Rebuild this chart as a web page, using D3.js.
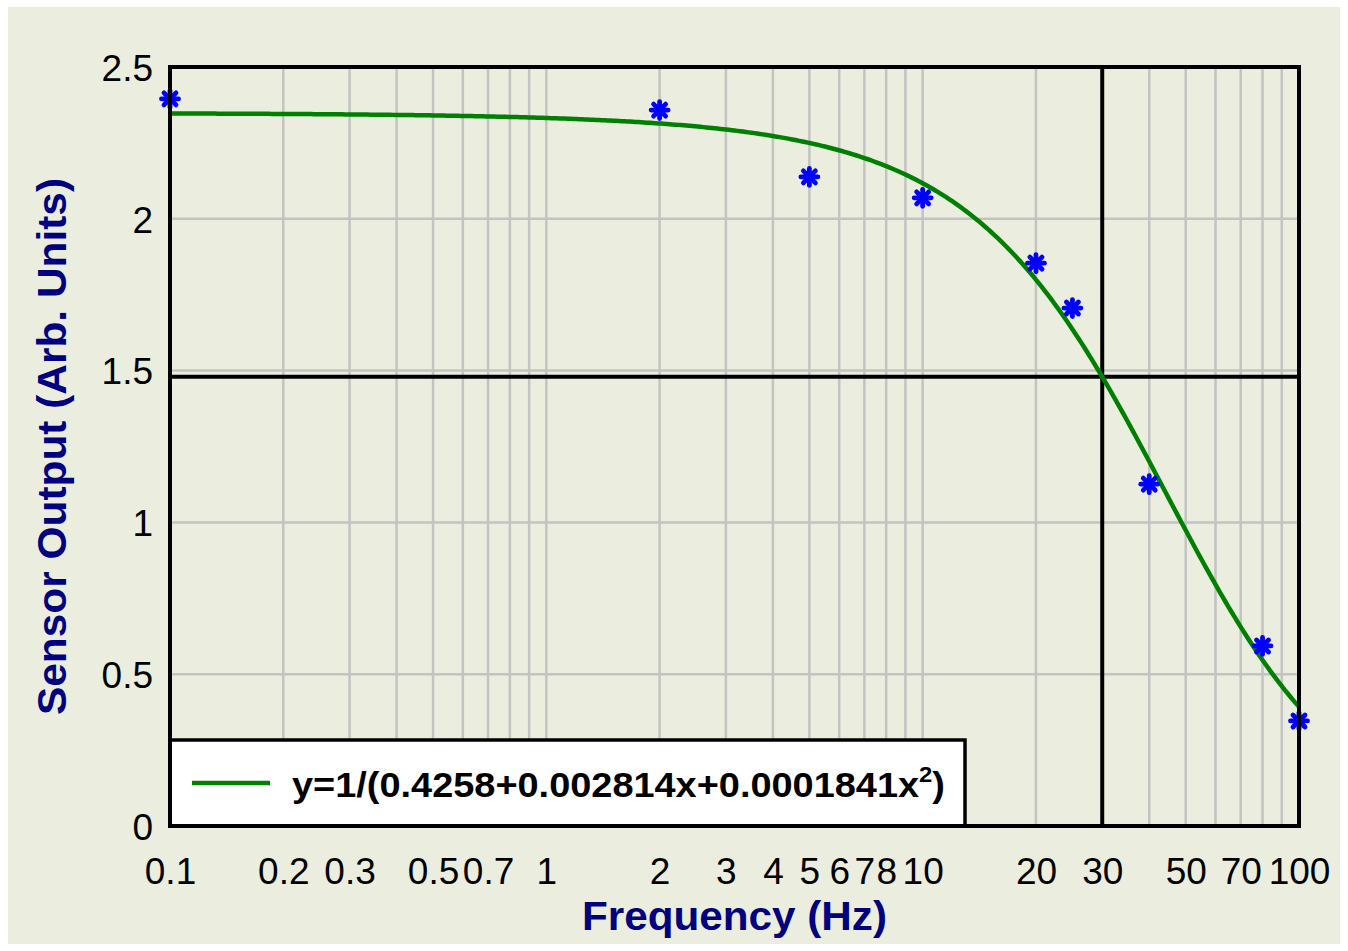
<!DOCTYPE html>
<html>
<head>
<meta charset="utf-8">
<script src="https://cdn.jsdelivr.net/npm/d3@7"></script>
<style>
  html, body { margin: 0; padding: 0; background: #ffffff; }
  svg { display: block; }
  text { font-family: "Liberation Sans", Arial, Helvetica, sans-serif; }
</style>
</head>
<body>
<svg id="chart" width="1348" height="951"></svg>
<script>
// Measured sensor response versus excitation frequency
const frequency = [0.1, 2, 5, 10, 20, 25, 40, 80, 100];
const sensorOutput = [2.395, 2.358, 2.138, 2.069, 1.854, 1.706, 1.126, 0.593, 0.346];

// Fitted model y = 1/(a + b*x + c*x^2)
const fitCoefficients = [0.4258, 0.002814, 0.0001841];

// Cut-off marker frequency
const cutoffFrequency = 30;

// Axis tick labels
const xTickLabels = [0.1, 0.2, 0.3, 0.5, 0.7, 1, 2, 3, 4, 5, 6, 7, 8, 10, 20, 30, 50, 70, 100];
const yTickLabels = [0, 0.5, 1, 1.5, 2, 2.5];

const xTitle = "Frequency (Hz)";
const yTitle = "Sensor Output (Arb. Units)";

const svg = d3.select("#chart");
const W = 1348, H = 951;
const plot = { left: 170, right: 1299, top: 67, bottom: 826 };

const x = d3.scaleLog().domain([0.1, 100]).range([plot.left, plot.right]);
const y = d3.scaleLinear().domain([0, 2.5]).range([plot.bottom, plot.top]);

const model = f => 1 / (fitCoefficients[0] + fitCoefficients[1] * f + fitCoefficients[2] * f * f);

// Panel background
svg.append("rect")
  .attr("x", 8).attr("y", 7)
  .attr("width", W - 16).attr("height", H - 14)
  .attr("fill", "#ebeedf");

// Grid
const grid = svg.append("g").attr("stroke", "#c3c3c3").attr("stroke-width", 2.5);
grid.selectAll("line.v").data(x.ticks()).join("line")
  .attr("class", "v")
  .attr("x1", d => x(d)).attr("x2", d => x(d))
  .attr("y1", plot.top).attr("y2", plot.bottom);
grid.selectAll("line.h").data(yTickLabels).join("line")
  .attr("class", "h")
  .attr("x1", plot.left).attr("x2", plot.right)
  .attr("y1", d => y(d)).attr("y2", d => y(d));

// Cut-off crosshair
const cutoffLevel = model(cutoffFrequency);
svg.append("line")
  .attr("x1", x(cutoffFrequency)).attr("x2", x(cutoffFrequency))
  .attr("y1", plot.top).attr("y2", plot.bottom)
  .attr("stroke", "#000").attr("stroke-width", 4);
svg.append("line")
  .attr("x1", plot.left).attr("x2", plot.right)
  .attr("y1", y(cutoffLevel)).attr("y2", y(cutoffLevel))
  .attr("stroke", "#000").attr("stroke-width", 4);

// Fitted curve, sampled evenly in log-frequency
const [lx0, lx1] = x.domain().map(Math.log10);
const samples = d3.range(0, 401).map(i => Math.pow(10, lx0 + (lx1 - lx0) * i / 400));
svg.append("path")
  .datum(samples)
  .attr("fill", "none")
  .attr("stroke", "#008000")
  .attr("stroke-width", 4.5)
  .attr("d", d3.line().x(d => x(d)).y(d => y(model(d))));

// Measured points as eight-spoke asterisks
const star = svg.append("g").attr("stroke", "#0000ff").attr("stroke-width", 4.8).attr("stroke-linecap", "round");
const spokes = d3.range(4).map(i => i * Math.PI / 4);
frequency.forEach((f, i) => {
  const cx = x(f), cy = y(sensorOutput[i]);
  const g = star.append("g").attr("transform", `translate(${cx},${cy})`);
  spokes.forEach(a => {
    const r = 8.5;
    g.append("line")
      .attr("x1", -r * Math.cos(a)).attr("y1", -r * Math.sin(a))
      .attr("x2", r * Math.cos(a)).attr("y2", r * Math.sin(a));
  });
  g.append("circle").attr("r", 5.5).attr("fill", "#0000ff").attr("stroke", "none");
});

// Legend
svg.append("rect")
  .attr("x", plot.left).attr("y", 740)
  .attr("width", 965 - plot.left).attr("height", plot.bottom - 740)
  .attr("fill", "#ffffff").attr("stroke", "#000").attr("stroke-width", 3.5);
svg.append("line")
  .attr("x1", 192).attr("x2", 270).attr("y1", 783).attr("y2", 783)
  .attr("stroke", "#008000").attr("stroke-width", 4.5);
const legendText = svg.append("text")
  .attr("x", 292).attr("y", 797)
  .attr("font-size", 35).attr("font-weight", "bold").attr("fill", "#000")
  .attr("textLength", 653).attr("lengthAdjust", "spacingAndGlyphs");
legendText.append("tspan")
  .text(`y=1/(${fitCoefficients[0]}+${fitCoefficients[1]}x+${fitCoefficients[2]}x`);
legendText.append("tspan").attr("font-size", 22).attr("dy", -15).text("2");
legendText.append("tspan").attr("dy", 15).text(")");

// Plot frame
svg.append("rect")
  .attr("x", plot.left).attr("y", plot.top)
  .attr("width", plot.right - plot.left).attr("height", plot.bottom - plot.top)
  .attr("fill", "none").attr("stroke", "#000").attr("stroke-width", 4);

// Axes (labels only)
const fmt = d3.format("~g");
const xAxis = svg.append("g")
  .attr("transform", `translate(0,${plot.bottom})`)
  .call(d3.axisBottom(x).tickValues(xTickLabels).tickFormat(fmt).tickSize(0).tickPadding(0));
xAxis.select(".domain").remove();
xAxis.selectAll("text")
  .attr("y", 58).attr("dy", null)
  .attr("font-size", 37).attr("font-family", "Liberation Sans, Arial, sans-serif")
  .attr("fill", "#000");

const yAxis = svg.append("g")
  .attr("transform", `translate(${plot.left},0)`)
  .call(d3.axisLeft(y).tickValues(yTickLabels).tickFormat(fmt).tickSize(0).tickPadding(0));
yAxis.select(".domain").remove();
yAxis.selectAll("text")
  .attr("x", -17).attr("dy", "0.36em")
  .attr("font-size", 37).attr("font-family", "Liberation Sans, Arial, sans-serif")
  .attr("fill", "#000");

// Axis titles
svg.append("text")
  .attr("x", 734.5).attr("y", 930)
  .attr("text-anchor", "middle")
  .attr("font-size", 41).attr("font-weight", "bold").attr("fill", "#000080")
  .attr("textLength", 305).attr("lengthAdjust", "spacingAndGlyphs")
  .text(xTitle);
svg.append("text")
  .attr("transform", "translate(66,446.5) rotate(-90)")
  .attr("text-anchor", "middle")
  .attr("font-size", 41).attr("font-weight", "bold").attr("fill", "#000080")
  .attr("textLength", 537).attr("lengthAdjust", "spacingAndGlyphs")
  .text(yTitle);
</script>
</body>
</html>
